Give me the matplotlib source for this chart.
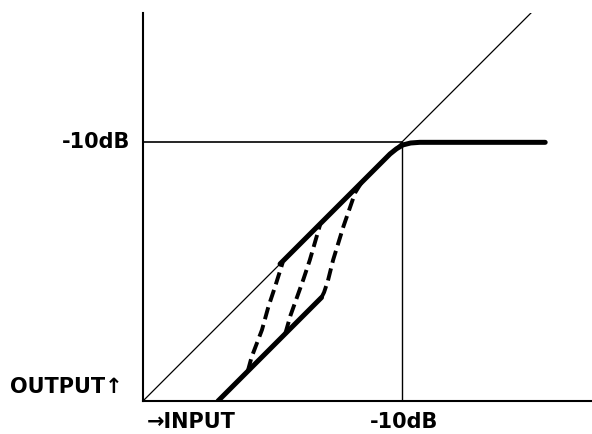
import matplotlib
matplotlib.use("Agg")
import matplotlib.pyplot as plt

# Reference (unity) line and level markers, in dB
diag_x = [-30, 0]
diag_y = [-30, 0]
level = -10

# Thick lower branch (low level, below threshold)
lower_x = [-24.2, -16.2]
lower_y = [-30.0, -22.0]

# Thick upper branch with soft knee and limiting
upper_x = [-19.4, -10.9, -10.4, -9.9, -9.3, -8.6, 1.1]
upper_y = [-19.4, -10.9, -10.5, -10.2, -10.05, -10.0, -10.0]

# Dashed transition curves
dash1_x = [-21.9, -21.6, -20.8, -20.3, -19.8, -19.2]
dash1_y = [-27.7, -26.6, -24.5, -22.7, -21.2, -19.3]
dash2_x = [-19.0, -18.6, -17.6, -17.1, -16.3]
dash2_y = [-24.8, -23.4, -20.6, -19.1, -16.35]
dash3_x = [-16.2, -16.0, -15.7, -15.3, -14.5, -13.6, -13.1]
dash3_y = [-22.0, -21.6, -20.7, -19.1, -16.5, -13.9, -13.1]

fig = plt.figure(figsize=(5.92, 4.34), dpi=100)
ax = fig.add_axes([143/592, 33/434, 449/592, 388/434])
ax.set_xlim(-30, 4.72)
ax.set_ylim(-30, 0.0)

for s in ["top", "right"]:
    ax.spines[s].set_visible(False)
ax.spines["left"].set_linewidth(1.5)
ax.spines["bottom"].set_linewidth(1.5)
ax.set_xticks([])
ax.set_yticks([])

ax.plot(diag_x, diag_y, color="black", lw=0.9)
ax.plot([-30, level], [level, level], color="black", lw=1.2)
ax.plot([level, level], [-30, level], color="black", lw=1.0)

ax.plot(lower_x, lower_y, color="black", lw=3.6, solid_capstyle="round")
ax.plot(upper_x, upper_y, color="black", lw=3.6, solid_capstyle="round",
        solid_joinstyle="round")

for dx, dy in [(dash1_x, dash1_y), (dash2_x, dash2_y), (dash3_x, dash3_y)]:
    ax.plot(dx, dy, color="black", lw=2.8, dashes=(3.2, 1.5))

fs = 15
fw = "bold"
ax.text(-31.0, level, "-10dB", ha="right", va="center", fontsize=fs,
        fontweight=fw, clip_on=False)
ax.text(-31.55, -28.9, "OUTPUT↑", ha="right", va="center", fontsize=fs,
        fontweight=fw, clip_on=False)
ax.text(-29.7, -31.62, "→INPUT", ha="left", va="center", fontsize=fs,
        fontweight=fw, clip_on=False)
ax.text(level + 0.2, -31.62, "-10dB", ha="center", va="center", fontsize=fs,
        fontweight=fw, clip_on=False)

fig.savefig("out.png", dpi=100)
